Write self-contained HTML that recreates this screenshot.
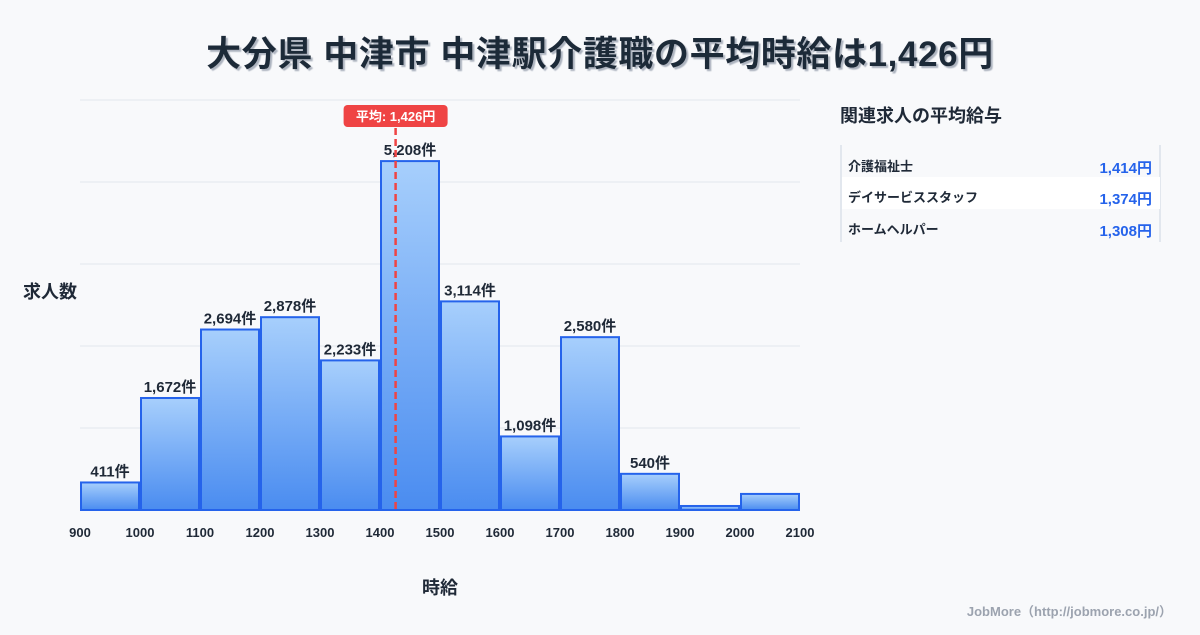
<!DOCTYPE html>
<html><head><meta charset="utf-8"><style>
body{margin:0;width:1200px;height:630px;background:#f8f9fb;font-family:"Liberation Sans","Noto Sans CJK JP",sans-serif;overflow:hidden}
</style></head><body>
<svg width="1200" height="630" xmlns="http://www.w3.org/2000/svg" style="font-family:'Liberation Sans','Noto Sans CJK JP',sans-serif">
<defs>
<linearGradient id="g" x1="0" y1="0" x2="0" y2="1"><stop offset="0" stop-color="#a7cffc"/><stop offset="1" stop-color="#4a8cf0"/></linearGradient>
<filter id="sh"><feDropShadow dx="2" dy="2" stdDeviation="0.5" flood-color="#9aa3b0" flood-opacity="0.8"/></filter>
</defs>
<text x="600" y="66" text-anchor="middle" font-size="35" letter-spacing="0.6" font-weight="bold" fill="#1f2937" filter="url(#sh)">大分県 中津市 中津駅介護職の平均時給は1,426円</text>
<g id="grid"></g>
<g id="bars"></g>
<g id="xt"></g>
<text x="50" y="298" text-anchor="middle" font-size="18" font-weight="bold" fill="#1f2937">求人数</text>
<text x="440" y="594" text-anchor="middle" font-size="18" font-weight="bold" fill="#1f2937">時給</text>
<g id="avg"></g>
<text x="840" y="122" font-size="18" font-weight="bold" fill="#1f2937">関連求人の平均給与</text>
<g>
<line x1="841" y1="145" x2="841" y2="242" stroke="#cbd5e1"/>
<line x1="1160" y1="145" x2="1160" y2="242" stroke="#cbd5e1"/>
<rect x="842" y="177" width="318" height="32" fill="#ffffff"/>
<text x="848" y="171" font-size="13" font-weight="bold" fill="#1f2937">介護福祉士</text>
<text x="1152" y="173" text-anchor="end" font-size="15" font-weight="bold" fill="#2563eb">1,414円</text>
<text x="848" y="202" font-size="13" font-weight="bold" fill="#1f2937">デイサービススタッフ</text>
<text x="1152" y="204" text-anchor="end" font-size="15" font-weight="bold" fill="#2563eb">1,374円</text>
<text x="848" y="234" font-size="13" font-weight="bold" fill="#1f2937">ホームヘルパー</text>
<text x="1152" y="236" text-anchor="end" font-size="15" font-weight="bold" fill="#2563eb">1,308円</text>
</g>
<text x="1172" y="616" text-anchor="end" font-size="13" font-weight="bold" fill="#9ca3af">JobMore（http://jobmore.co.jp/）</text>
</svg>
<script>
const binStarts=[900,1000,1100,1200,1300,1400,1500,1600,1700,1800,1900,2000];
const counts=[411,1672,2694,2878,2233,5208,3114,1098,2580,540,60,240];
const showLabel=[true,true,true,true,true,true,true,true,true,true,false,false];
const xTicks=[900,1000,1100,1200,1300,1400,1500,1600,1700,1800,1900,2000,2100];
const yGrid=[0,1224,2448,3672,4896,6120];
const avgValue=1426;
const NS="http://www.w3.org/2000/svg";
const x=v=>80+(v-900)*0.6;
const y=v=>510-v*(410/6120);
function mk(t,a,p){const e=document.createElementNS(NS,t);for(const k in a)e.setAttribute(k,a[k]);p.appendChild(e);return e;}
const grid=document.getElementById('grid');
yGrid.forEach(v=>{const l=mk('line',{x1:80,x2:800,y1:y(v),y2:y(v),stroke:'#e2e6ec'},grid);

});
const bars=document.getElementById('bars');
binStarts.forEach((b,i)=>{
const r=mk('rect',{x:x(b)+1,y:y(counts[i]),width:x(b+100)-x(b)-2,height:510-y(counts[i]),fill:'url(#g)',stroke:'#2563eb','stroke-width':2},bars);


if(showLabel[i]){const t=mk('text',{x:x(b+50),y:y(counts[i])-6,'text-anchor':'middle','font-size':15,'font-weight':'bold',fill:'#1f2937'},bars);
t.textContent=counts[i].toLocaleString('en-US')+'件';

}
});
const xt=document.getElementById('xt');
xTicks.forEach(v=>{const t=mk('text',{x:x(v),y:537,'text-anchor':'middle','font-size':13,'font-weight':'bold',fill:'#1f2937'},xt);
t.textContent=v;

});
const avg=document.getElementById('avg');
const ax=x(avgValue);
const al=mk('line',{x1:ax,x2:ax,y1:128,y2:510,stroke:'#ef4444','stroke-width':2.5,'stroke-dasharray':'7,4'},avg);


const ar=mk('rect',{x:ax-52,y:105,width:104,height:22,rx:4,fill:'#ef4444'},avg);


const at=mk('text',{x:ax,y:121,'text-anchor':'middle','font-size':13,'font-weight':'bold',fill:'#fff'},avg);
at.textContent='平均: '+avgValue.toLocaleString('en-US')+'円';


</script>
</body></html>
